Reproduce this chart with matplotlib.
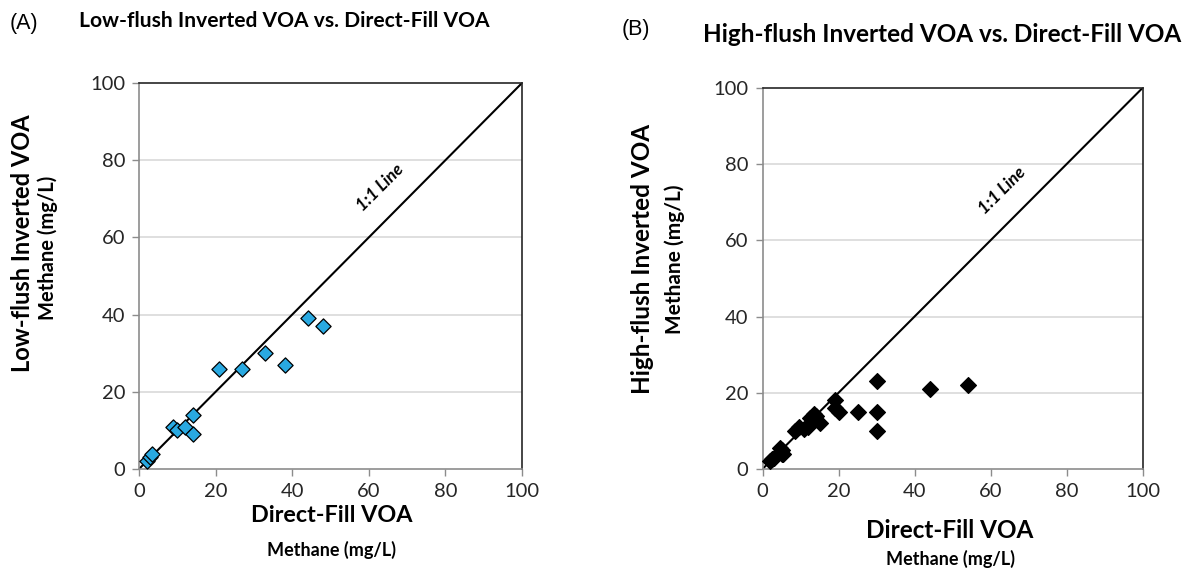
import matplotlib
matplotlib.use("Agg")
import matplotlib.pyplot as plt

plt.rcParams['font.family'] = ['Lato', 'DejaVu Sans']

# (A) low-flush inverted VOA vs direct-fill VOA, methane mg/L
low_direct = [2, 3, 3.5, 9, 10, 12, 14, 14, 21, 27, 33, 38, 44, 48]
low_inverted = [2, 3, 4, 11, 10, 11, 14, 9, 26, 26, 30, 27, 39, 37]

# (B) high-flush inverted VOA vs direct-fill VOA, methane mg/L
high_direct = [2, 2.5, 3, 4.5, 5, 5.5, 5, 8.5, 9.5, 11, 12, 12.5, 13.5, 14, 15,
               19, 19, 20, 25, 30, 30, 30, 44, 54]
high_inverted = [2, 2.5, 3, 5.5, 4, 4, 5, 10, 11, 10.5, 11, 13.5, 14.5, 14, 12,
                 18, 16, 15, 15, 23, 15, 10, 21, 22]

ticks = [0, 20, 40, 60, 80, 100]

fig = plt.figure(figsize=(11.82, 5.7), dpi=100)


def make_panel(rect, xs, ys, color, msize):
    ax = fig.add_axes(rect)
    ax.set_xlim(0, 100)
    ax.set_ylim(0, 100)
    ax.set_xticks(ticks)
    ax.set_yticks(ticks)
    for v in ticks[1:-1]:
        ax.axhline(v, color='#d9d9d9', lw=1.2, zorder=0)
    ax.plot([0, 100], [0, 100], color='black', lw=1.5, zorder=2)
    ax.scatter(xs, ys, marker='D', s=msize, facecolor=color, edgecolor='black',
               linewidth=0.9, zorder=3, clip_on=False)
    ax.text(63, 73, '1:1 Line', rotation=45, ha='center', va='center',
            fontsize=12.5, fontweight='bold', fontstyle='italic', color='black')
    for side in ['left', 'bottom']:
        ax.spines[side].set_color('#8c8c8c')
        ax.spines[side].set_linewidth(1.2)
    for side in ['top', 'right']:
        ax.spines[side].set_color('#262626')
        ax.spines[side].set_linewidth(1.2)
    ax.tick_params(axis='both', colors='#8c8c8c', length=5, width=1,
                   labelsize=14.5, labelcolor='#262626', direction='out', pad=5)
    return ax


make_panel([139 / 1182, 1 - 469 / 570, 383 / 1182, 386 / 570],
           low_direct, low_inverted, '#29a9e1', 60)
make_panel([762.5 / 1182, 1 - 469 / 570, 380 / 1182, 381 / 570],
           high_direct, high_inverted, 'black', 65)

# panel titles
fig.text(10 / 1182, 1 - 24 / 570, '(A)', fontsize=15.5, family='Liberation Sans',
         va='center', ha='left')
fig.text(79 / 1182, 1 - 21 / 570, 'Low-flush Inverted VOA vs. Direct-Fill VOA',
         fontsize=15.1, fontweight='bold', va='center', ha='left')
fig.text(622 / 1182, 1 - 30 / 570, '(B)', fontsize=15.5, family='Liberation Sans',
         va='center', ha='left')
fig.text(1181 / 1182, 1 - 34 / 570, 'High-flush Inverted VOA vs. Direct-Fill VOA',
         fontsize=17.5, fontweight='bold', va='center', ha='right')

# axis titles
fig.text(23 / 1182, 1 - 243 / 570, 'Low-flush Inverted VOA', rotation=90,
         fontsize=17, fontweight='bold', va='center', ha='center')
fig.text(48 / 1182, 1 - 248 / 570, 'Methane (mg/L)', rotation=90,
         fontsize=14.5, fontweight='bold', va='center', ha='center')
fig.text(643 / 1182, 1 - 259 / 570, 'High-flush Inverted VOA', rotation=90,
         fontsize=17.5, fontweight='bold', va='center', ha='center')
fig.text(675 / 1182, 1 - 259 / 570, 'Methane (mg/L)', rotation=90,
         fontsize=15, fontweight='bold', va='center', ha='center')

fig.text(332 / 1182, 1 - 516 / 570, 'Direct-Fill VOA', fontsize=16.8,
         fontweight='bold', va='center', ha='center')
fig.text(332 / 1182, 1 - 550 / 570, 'Methane (mg/L)', fontsize=13,
         fontweight='bold', va='center', ha='center')
fig.text(950 / 1182, 1 - 530 / 570, 'Direct-Fill VOA', fontsize=17.5,
         fontweight='bold', va='center', ha='center')
fig.text(950 / 1182, 1 - 559 / 570, 'Methane (mg/L)', fontsize=13,
         fontweight='bold', va='center', ha='center')

fig.savefig('out.png', dpi=100)
